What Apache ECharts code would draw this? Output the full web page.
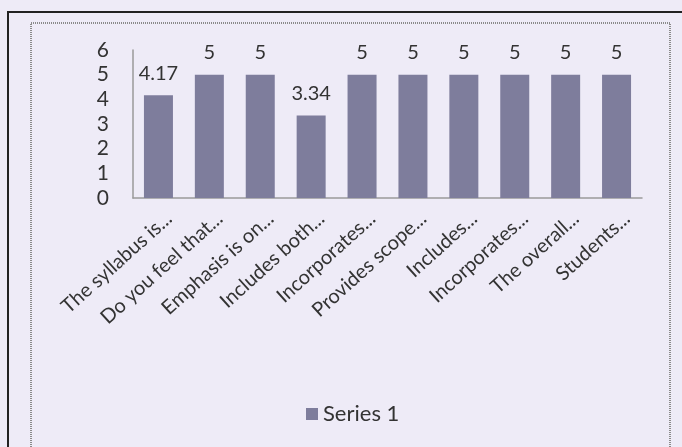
<!DOCTYPE html>
<html>
<head>
<meta charset="utf-8">
<script src="https://cdn.jsdelivr.net/npm/echarts@6/dist/echarts.min.js"></script>
<style>
html,body{margin:0;padding:0;background:#eeebf7;}
#c{width:682px;height:447px;}
</style>
</head>
<body>
<div id="c"></div>
<script>
const categories = ["The syllabus is...", "Do you feel that...", "Emphasis is on...", "Includes both...", "Incorporates...", "Provides scope...", "Includes...", "Incorporates...", "The overall...", "Students..."];
const series1 = [4.17, 5, 5, 3.34, 5, 5, 5, 5, 5, 5];
const yTicks = [0, 1, 2, 3, 4, 5, 6];

const chart = echarts.init(document.getElementById('c'));
const font = 'Lato, "Open Sans", sans-serif';
chart.setOption({
  backgroundColor: '#eeebf7',
  animation: false,
  textStyle: {fontFamily: font},
  graphic: [
    {type: 'rect', shape: {x: 8, y: 12, width: 720, height: 500}, style: {fill: 'none', stroke: '#222', lineWidth: 2}},
    {type: 'rect', shape: {x: 31, y: 23, width: 639, height: 480}, style: {fill: 'none', stroke: '#8a8a8a', lineWidth: 2, lineDash: [1, 1]}}
  ],
  grid: {left: 133, right: 40, top: 50, bottom: 249, containLabel: false},
  legend: {
    left: 301, top: 398,
    itemWidth: 12, itemHeight: 12, itemGap: 4,
    icon: 'rect',
    textStyle: {fontSize: 22, color: '#333', fontFamily: font},
    data: ['Series 1']
  },
  xAxis: {
    type: 'category',
    data: categories,
    axisLine: {show: true, lineStyle: {color: '#9a9a9a', width: 1.5}},
    axisTick: {show: false},
    axisLabel: {
      interval: 0, rotate: 42, fontSize: 20, color: '#333', fontFamily: font,
      margin: 27, padding: [0, -14, 0, 0]
    }
  },
  yAxis: {
    type: 'value', min: yTicks[0], max: yTicks[yTicks.length - 1], interval: 1,
    axisLine: {show: true, lineStyle: {color: '#9a9a9a', width: 1.5}},
    axisTick: {show: false},
    splitLine: {show: false},
    axisLabel: {fontSize: 21, color: '#333', margin: 24, fontFamily: font}
  },
  series: [{
    name: 'Series 1',
    type: 'bar',
    data: series1,
    barWidth: 29,
    itemStyle: {color: '#7e7d9c'},
    label: {show: true, position: 'top', distance: 12, fontSize: 20, color: '#333', fontFamily: font}
  }]
});
</script>
</body>
</html>
